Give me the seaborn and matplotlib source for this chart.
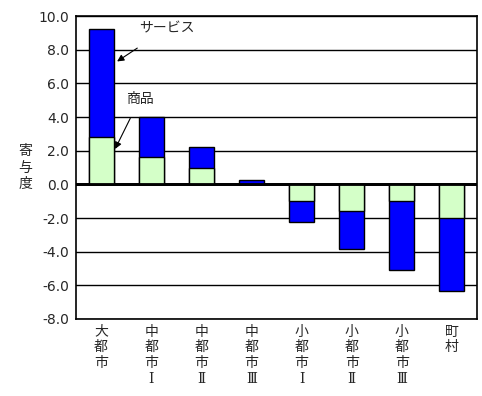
import matplotlib
matplotlib.use("Agg")
import matplotlib.pyplot as plt
import seaborn as sns
import numpy as np
import pandas as pd

categories = ["大\n都\n市", "中\n都\n市\nⅠ", "中\n都\n市\nⅡ", "中\n都\n市\nⅢ",
              "小\n都\n市\nⅠ", "小\n都\n市\nⅡ", "小\n都\n市\nⅢ", "町\n村"]
goods = [2.8, 1.6, 1.0, 0.0, -1.0, -1.6, -1.0, -2.0]
service = [6.4, 2.4, 1.2, 0.25, -1.25, -2.25, -4.1, -4.35]
yticks = [-8.0, -6.0, -4.0, -2.0, 0.0, 2.0, 4.0, 6.0, 8.0, 10.0]

sns.set_theme(style="white")
plt.rcParams['font.family'] = ['Noto Sans CJK JP', 'DejaVu Sans']
plt.rcParams['hatch.linewidth'] = 1.0

df = pd.DataFrame({"cat": categories, "goods": goods, "service": service})
df["total"] = df["goods"] + df["service"]

fig = plt.figure(figsize=(4.82, 3.96), dpi=100)
ax = fig.add_axes([76/482, 1-319/396, 401/482, 303/396])

for y in yticks:
    ax.axhline(y, color="black", lw=2.0 if y == 0 else 1.0, zorder=0.5)

sns.barplot(data=df, x="cat", y="total", color="#0000ff", saturation=1,
            width=0.5, edgecolor="black", linewidth=1.0, ax=ax, zorder=2)
sns.barplot(data=df, x="cat", y="goods", color="#d4ffc8", saturation=1,
            width=0.5, edgecolor="black", linewidth=1.0, ax=ax, zorder=3)
for p in ax.patches[len(categories):]:
    p.set_edgecolor("black")

ax.axhline(0, color="black", lw=2.0, zorder=4)

ax.set_ylim(-8, 10)
ax.set_xlim(-0.5, len(categories) - 0.5)
ax.set_yticks(yticks)
ax.set_yticklabels([f"{v:.1f}" for v in yticks], fontsize=10, family=['DejaVu Sans'])
ax.tick_params(axis='both', length=0, pad=5)
ax.set_xticks(range(len(categories)))
ax.set_xticklabels(categories, fontsize=10, linespacing=1.15, va="top",
                   family=['DejaVu Serif', 'Noto Sans CJK JP'])
ax.tick_params(axis='x', pad=4)
ax.set_xlabel("")
ax.set_ylabel("寄\n与\n度", rotation=0, fontsize=10, linespacing=1.2,
              va="center", ha="center")
ax.yaxis.set_label_coords(-0.127, 0.5)
for s in ax.spines.values():
    s.set_color("black")
    s.set_linewidth(1.2)

ax.annotate("サービス", xy=(0.32, 7.3), xytext=(1.31, 9.25), fontsize=10,
            ha="center", va="center",
            arrowprops=dict(arrowstyle='-|>', color='black', lw=0.8,
                            mutation_scale=10, shrinkA=12, shrinkB=0))
ax.annotate("商品", xy=(0.28, 2.1), xytext=(0.77, 5.05), fontsize=10,
            ha="center", va="center",
            arrowprops=dict(arrowstyle='-|>', color='black', lw=0.8,
                            mutation_scale=10, shrinkA=7, shrinkB=0))

fig.savefig("out.png", dpi=100)
